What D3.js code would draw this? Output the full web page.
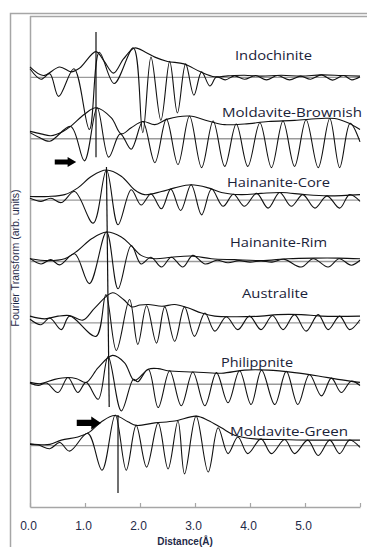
<!DOCTYPE html>
<html><head><meta charset="utf-8">
<script src="https://cdn.jsdelivr.net/npm/d3@7"></script>
<style>body{margin:0;background:#fff}svg{display:block}</style>
</head><body><svg id="c" width="367" height="547"></svg>
<script>
// ---------- data ----------
const names = ["Indochinite","Moldavite-Brownish","Hainanite-Core","Hainanite-Rim","Australite","Philippnite","Moldavite-Green"];
const offsets = [60,50,40,30,20,10,0];
const xTickValues = [0,1,2,3,4,5,6];
const xTickLabels = ["0.0","1.0","2.0","3.0","4.0","5.0",""];

// magnitude (envelope) [distance, amplitude]
const indochiniteMag = [[0,1.7],[0.24,0.3],[0.54,1.7],[0.75,0.9],[0.9,1.5],[1.2,4.2],[1.35,2.6],[1.52,0.7],[1.7,3.0],[1.9,4.8],[2.1,4.1],[2.27,3.3],[2.5,2.6],[2.8,2.2],[3.1,0.9],[3.36,0.1],[3.6,0.25],[3.9,0.35],[4.2,0.2],[4.57,0.35],[4.93,0.2],[5.3,0.4],[5.66,0.3],[6,0.2]];
const brownishMag = [[0,1.2],[0.2,0.8],[0.38,0.5],[0.6,1.2],[0.75,2.1],[0.99,4.0],[1.2,5.05],[1.48,3.4],[1.66,0.8],[1.84,1.8],[2.05,2.8],[2.27,2.3],[2.5,3.2],[2.9,3.7],[3.24,2.9],[3.54,2.3],[3.9,2.4],[4.33,2.8],[4.81,3.0],[5.3,3.3],[5.54,3.3],[5.78,2.6],[6,1.5]];
const coreMag = [[0,0.6],[0.33,0.6],[0.63,0.9],[0.87,2.0],[1.12,3.9],[1.39,4.9],[1.66,3.9],[1.9,1.7],[2.08,0.9],[2.39,1.4],[2.63,2.0],[2.93,2.5],[3.24,2.0],[3.48,1.25],[3.84,0.9],[4.2,1.1],[4.57,1.25],[4.99,0.9],[5.42,0.7],[6,0.9]];
const rimMag = [[0,0.45],[0.33,0.15],[0.63,0.45],[0.87,1.8],[1.12,3.7],[1.39,4.8],[1.66,4.0],[1.84,2.6],[2.02,1.0],[2.27,0.45],[2.57,0.7],[2.93,0.9],[3.3,0.45],[3.72,0.3],[4.2,0.15],[4.69,0.45],[5.18,0.55],[5.6,0.55],[6,0.45]];
const australiteMag = [[0,1.1],[0.27,0.65],[0.51,1.1],[0.72,1.2],[0.96,0.45],[1.18,2.45],[1.5,4.9],[1.7,3.8],[1.85,2.6],[2.0,2.9],[2.15,3.0],[2.4,2.7],[2.63,3.0],[2.87,2.45],[3.12,1.6],[3.36,1.1],[3.72,1.0],[4.2,1.1],[4.5,1.35],[4.93,1.35],[5.3,1.1],[6,1.1]];
const philippniteMag = [[0,0.3],[0.2,0.1],[0.45,0.8],[0.69,1.1],[0.85,0.9],[1.02,0.3],[1.24,2.7],[1.5,4.7],[1.72,3.5],[1.9,0.6],[2.15,2.45],[2.33,2.55],[2.5,2.2],[2.99,2.0],[3.48,1.8],[3.9,2.3],[4.33,2.3],[4.81,1.9],[5.24,1.35],[5.6,0.8],[6,0.3]];
const greenMag = [[0,0.3],[0.36,0.2],[0.57,0.9],[0.87,1.4],[1.08,2.2],[1.3,3.9],[1.54,4.9],[1.78,3.9],[1.93,3.3],[2.27,3.7],[2.63,4.0],[3.02,4.8],[3.24,4.1],[3.48,2.9],[3.72,1.7],[4.08,1.1],[4.57,1.0],[5.12,0.9],[6,0.9]];

// imaginary part (oscillation) extrema [distance, amplitude]
const indochiniteIm = [[0,1.4],[0.2,-0.3],[0.36,0.6],[0.52,-3.1],[0.8,1.4],[1.08,-8.5],[1.26,4.1],[1.53,-1.0],[1.88,4.8],[2.05,-9.0],[2.2,3.3],[2.38,-7.0],[2.54,2.6],[2.68,-5.8],[2.83,2.2],[2.98,-2.9],[3.12,0.9],[3.27,-1.4],[3.39,0.05],[3.55,-0.4],[3.72,0.25],[3.9,-0.3],[4.1,0.3],[4.3,-0.4],[4.5,0.3],[4.72,-0.4],[4.92,0.2],[5.1,-0.3],[5.3,0.4],[5.5,-0.45],[5.7,0.3],[5.85,-0.4],[6,0.1]];
const brownishIm = [[0,1.0],[0.15,0.3],[0.36,-0.4],[0.74,2.0],[0.99,-3.6],[1.22,5.05],[1.43,-3.0],[1.64,0.8],[1.84,-1.7],[2.05,2.8],[2.27,-3.9],[2.48,3.2],[2.69,-4.2],[2.9,3.7],[3.12,-4.7],[3.33,2.9],[3.54,-4.5],[3.75,2.4],[3.96,-4.5],[4.18,2.6],[4.39,-4.7],[4.6,2.9],[4.81,-4.5],[5.02,3.1],[5.24,-4.7],[5.45,3.3],[5.63,-4.7],[5.82,2.5],[6,-0.5]];
const coreIm = [[0,0.3],[0.2,-0.2],[0.38,0.3],[0.57,-0.4],[0.81,1.4],[1.15,-3.75],[1.39,4.9],[1.6,-4.0],[1.84,1.7],[2.02,-0.8],[2.2,1.0],[2.39,-1.4],[2.56,1.8],[2.74,-1.7],[2.93,2.5],[3.12,-2.4],[3.3,1.8],[3.51,-1.0],[3.7,0.95],[3.9,-1.0],[4.12,1.1],[4.33,-1.3],[4.54,1.25],[4.75,-1.0],[4.96,0.9],[5.18,-1.3],[5.4,0.7],[5.63,-1.3],[5.81,0.9],[6,-0.2]];
const rimIm = [[0,0.5],[0.2,-0.4],[0.38,0.3],[0.54,-0.55],[0.81,1.25],[1.08,-3.6],[1.39,4.8],[1.6,-4.45],[1.84,2.6],[2.02,-0.4],[2.2,0.7],[2.39,-0.9],[2.57,0.7],[2.78,-0.9],[2.96,1.0],[3.18,-0.4],[3.4,0.2],[3.6,-0.2],[3.8,0.15],[4.0,-0.1],[4.2,0.1],[4.4,-0.1],[4.62,0.35],[4.93,-0.9],[5.15,0.45],[5.42,-0.9],[5.62,0.45],[5.84,-0.6],[6,0.2]];
const australiteIm = [[0,0.6],[0.2,-0.3],[0.36,0.8],[0.57,-1.1],[0.72,1.1],[1.2,-2.2],[1.38,4.6],[1.57,-4.5],[1.81,3.8],[1.96,-3.5],[2.12,2.8],[2.3,-3.3],[2.45,2.6],[2.63,-3.0],[2.81,2.6],[2.99,-2.2],[3.18,1.6],[3.36,-1.35],[3.57,1.0],[3.78,-1.1],[3.99,1.1],[4.2,-1.1],[4.41,1.2],[4.6,-1.1],[4.81,1.35],[5.02,-1.35],[5.24,1.35],[5.42,-1.1],[5.63,1.1],[5.81,-1.1],[6,0.5]];
const philippniteIm = [[0,0.2],[0.15,-0.2],[0.3,0.2],[0.51,-1.35],[0.69,1.1],[0.87,-1.35],[1.02,0.3],[1.24,-2.45],[1.42,4.5],[1.66,-4.35],[1.88,0.8],[1.96,0.4],[2.15,2.45],[2.33,-3.8],[2.54,2.2],[2.75,-3.5],[2.96,2.0],[3.18,-3.5],[3.39,1.9],[3.6,-3.0],[3.81,2.2],[4.02,-3.3],[4.21,2.3],[4.45,-3.3],[4.66,2.1],[4.87,-3.3],[5.08,1.6],[5.3,-1.9],[5.48,1.0],[5.66,-1.35],[5.84,0.5],[6,-0.2]];
const greenIm = [[0,0.2],[0.15,0.1],[0.36,-0.5],[0.54,0.5],[0.72,-0.9],[1.05,2.0],[1.31,-4.0],[1.55,5.0],[1.75,-4.0],[1.93,3.3],[2.12,-3.5],[2.33,3.7],[2.51,-3.8],[2.69,4.0],[2.81,-4.6],[3.02,4.8],[3.24,-4.3],[3.42,2.9],[3.6,-1.3],[3.78,1.4],[3.96,-1.3],[4.2,1.1],[4.39,-1.3],[4.63,1.0],[4.81,-1.3],[5.05,0.9],[5.24,-1.6],[5.45,0.9],[5.63,-1.3],[5.81,0.9],[6,-0.3]];

const magnitudes = [indochiniteMag, brownishMag, coreMag, rimMag, australiteMag, philippniteMag, greenMag];
const imaginaries = [indochiniteIm, brownishIm, coreIm, rimIm, australiteIm, philippniteIm, greenIm];

// marker lines [[x,y],[x,y]] in data units
const markerLines = [[[1.2,67.4],[1.2,47.0]], [[1.39,45.4],[1.44,6.3]], [[1.6,5.0],[1.6,-7.7]]];
// arrows [xStart, xEnd, y]
const arrows = [[0.45,0.84,46.2],[0.85,1.29,3.7]];

// ---------- layout ----------
const svg = d3.select("#c");
const x = d3.scaleLinear().domain([0,6]).range([30,360]);
const y = d3.scaleLinear().domain([-10,70]).range([507,16]);
const frameColor = "#a6a6a6";
const textColor = "#1f2a48";

// outer chart frame
svg.append("path").attr("d","M10.5,560 V13.5 H372").attr("fill","none").attr("stroke",frameColor).attr("stroke-width",1.5);
// plot area top border
svg.append("line").attr("x1",30).attr("x2",372).attr("y1",16.5).attr("y2",16.5).attr("stroke",frameColor).attr("stroke-width",1.5);
// left axis
svg.append("line").attr("x1",30.5).attr("x2",30.5).attr("y1",16).attr("y2",507.5).attr("stroke",frameColor).attr("stroke-width",1.5);

// baselines
svg.selectAll("line.base").data(offsets).join("line").attr("class","base")
  .attr("x1",x(0)).attr("x2",x(6)).attr("y1",d=>y(d)).attr("y2",d=>y(d))
  .attr("stroke","#9a9a9a").attr("stroke-width",1.3);

// bottom axis
const xAxis = d3.axisBottom(x).tickValues(xTickValues).tickSizeInner(-4).tickSizeOuter(0).tickPadding(14)
  .tickFormat((d,i)=>xTickLabels[i]);
const gx = svg.append("g").attr("transform","translate(0,507)").call(xAxis);
gx.select(".domain").attr("stroke",frameColor).attr("stroke-width",1.5);
gx.selectAll(".tick line").attr("stroke",frameColor).attr("stroke-width",1.2);
gx.selectAll(".tick text").attr("font-family","'Liberation Sans',Arial,sans-serif").attr("font-size",12)
  .attr("fill",textColor).attr("dx",-2);

// curves
const line = d3.line().x(d=>x(d[0])).curve(d3.curveCatmullRom.alpha(0.5));
magnitudes.forEach((m,i)=>{
  svg.append("path").datum(m).attr("fill","none").attr("stroke","#111").attr("stroke-width",1.1)
    .attr("d", line.y(d=>y(d[1]+offsets[i])));
});
imaginaries.forEach((m,i)=>{
  svg.append("path").datum(m).attr("fill","none").attr("stroke","#111").attr("stroke-width",1.1)
    .attr("d", line.y(d=>y(d[1]+offsets[i])));
});

// marker lines
markerLines.forEach(l=>{
  svg.append("line").attr("x1",x(l[0][0])).attr("y1",y(l[0][1])).attr("x2",x(l[1][0])).attr("y2",y(l[1][1]))
    .attr("stroke","#111").attr("stroke-width",1.2);
});

// arrows
arrows.forEach((a,i)=>{
  const x0=x(a[0]), x1=x(a[1]), yc=y(a[2]);
  const bh = i===0?2.5:3.2, hh = i===0?5:6.5;
  const hx = x1 - (x1-x0)*0.4;
  svg.append("path").attr("d",`M${x0},${yc-bh} L${hx},${yc-bh} L${hx},${yc-hh} L${x1},${yc} L${hx},${yc+hh} L${hx},${yc+bh} L${x0},${yc+bh} Z`)
    .attr("fill","#000");
});

// series labels [x, baseline, width]
const labelPos = [[235,60,77],[222,117,140],[227,187,103],[230,247,97],[242,298,66],[221,367,72],[230,436,118]];
names.forEach((n,i)=>{
  svg.append("text").attr("x",labelPos[i][0]).attr("y",labelPos[i][1]).text(n)
    .attr("font-family","'Open Sans',sans-serif").attr("font-size",13).attr("fill","#1a2238")
    .attr("textLength",labelPos[i][2]).attr("lengthAdjust","spacingAndGlyphs");
});

// axis titles
svg.append("text").attr("x",185).attr("y",545).attr("text-anchor","middle").text("Distance(Å)")
  .attr("font-family","'Liberation Sans',Arial,sans-serif").attr("font-size",10).attr("font-weight","bold").attr("fill",textColor);
svg.append("text").attr("transform","translate(19,258) rotate(-90)").attr("text-anchor","middle")
  .text("Fourier Transform (arb. units)")
  .attr("font-family","'Liberation Sans',Arial,sans-serif").attr("font-size",10).attr("fill",textColor)
  .attr("textLength",137).attr("lengthAdjust","spacingAndGlyphs");
</script>
</body></html>
